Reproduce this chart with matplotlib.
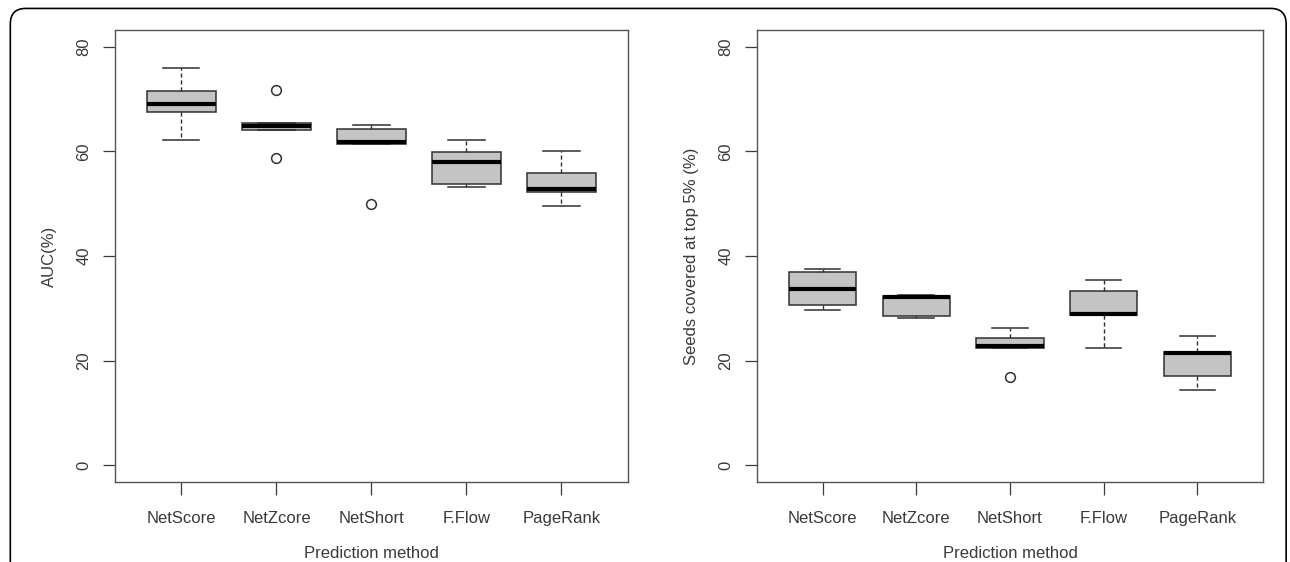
import matplotlib.pyplot as plt
from matplotlib.patches import FancyBboxPatch

plt.rcParams['font.family'] = ['Liberation Sans', 'DejaVu Sans']

methods = ["NetScore", "NetZcore", "NetShort", "F.Flow", "PageRank"]

# AUC(%) box statistics
auc_whislo = [62.2, 64.1, 61.4, 53.1, 49.6]
auc_q1 = [67.5, 64.1, 61.4, 53.8, 52.2]
auc_med = [69.1, 64.8, 61.7, 58.0, 52.8]
auc_q3 = [71.5, 65.4, 64.3, 59.8, 55.9]
auc_whishi = [76.0, 65.4, 65.1, 62.2, 60.0]
auc_fliers = [[], [71.7, 58.7], [49.9], [], []]

# Seeds covered at top 5% (%)
seed_whislo = [29.7, 28.1, 22.5, 22.5, 14.3]
seed_q1 = [30.7, 28.5, 22.5, 28.7, 17.1]
seed_med = [33.7, 32.1, 22.8, 28.9, 21.4]
seed_q3 = [37.0, 32.3, 24.4, 33.4, 21.7]
seed_whishi = [37.6, 32.5, 26.2, 35.4, 24.8]
seed_fliers = [[], [], [16.8], [], []]

ink = "#3a3a3a"


def make_stats(lo, q1, med, q3, hi, fl):
    return [dict(whislo=a, q1=b, med=c, q3=d, whishi=e, fliers=f, label=m)
            for a, b, c, d, e, f, m in zip(lo, q1, med, q3, hi, fl, methods)]


def draw_panel(ax, stats, ylabel):
    ax.bxp(stats, positions=range(1, 6), widths=0.72, patch_artist=True,
           showfliers=True, capwidths=0.38,
           boxprops=dict(facecolor="#c4c4c4", edgecolor="#303030", linewidth=1.1),
           medianprops=dict(color="black", linewidth=3),
           whiskerprops=dict(color="#303030", linewidth=1.0, linestyle=(0, (3, 2))),
           capprops=dict(color="#303030", linewidth=1.1),
           flierprops=dict(marker="o", markerfacecolor="none",
                           markeredgecolor="#303030", markersize=7, markeredgewidth=1.1))
    ax.set_xlim(0.3, 5.7)
    ax.set_ylim(-3.2, 83.2)
    ax.set_yticks([0, 20, 40, 60, 80])
    ax.set_yticklabels(["0", "20", "40", "60", "80"], rotation=90, va="center")
    ax.set_xticks(range(1, 6))
    ax.set_xticklabels(methods)
    ax.tick_params(axis="both", colors=ink, labelcolor=ink, labelsize=12,
                   length=9, width=0.9)
    ax.tick_params(axis="x", pad=12)
    ax.tick_params(axis="y", pad=8)
    for s in ax.spines.values():
        s.set_color("#555555")
        s.set_linewidth(1.0)
    ax.set_ylabel(ylabel, color=ink, fontsize=12, labelpad=14)
    ax.set_xlabel("Prediction method", color=ink, fontsize=12, labelpad=14)


fig = plt.figure(figsize=(12.9, 5.62), dpi=100)
ax1 = fig.add_axes([0.0891, 0.1423, 0.3977, 0.8043])
ax2 = fig.add_axes([0.5868, 0.1423, 0.3922, 0.8043])

draw_panel(ax1, make_stats(auc_whislo, auc_q1, auc_med, auc_q3, auc_whishi, auc_fliers), "AUC(%)")
draw_panel(ax2, make_stats(seed_whislo, seed_q1, seed_med, seed_q3, seed_whishi, seed_fliers),
           "Seeds covered at top 5% (%)")

# rounded outer frame, open at the bottom
frame = FancyBboxPatch((0.008, -0.1), 0.989, 1.085, transform=fig.transFigure,
                       boxstyle="round,pad=0,rounding_size=0.012", fill=False,
                       edgecolor="black", linewidth=1.2, mutation_aspect=1290 / 562)
fig.patches.append(frame)

fig.savefig("out.png", dpi=100)
